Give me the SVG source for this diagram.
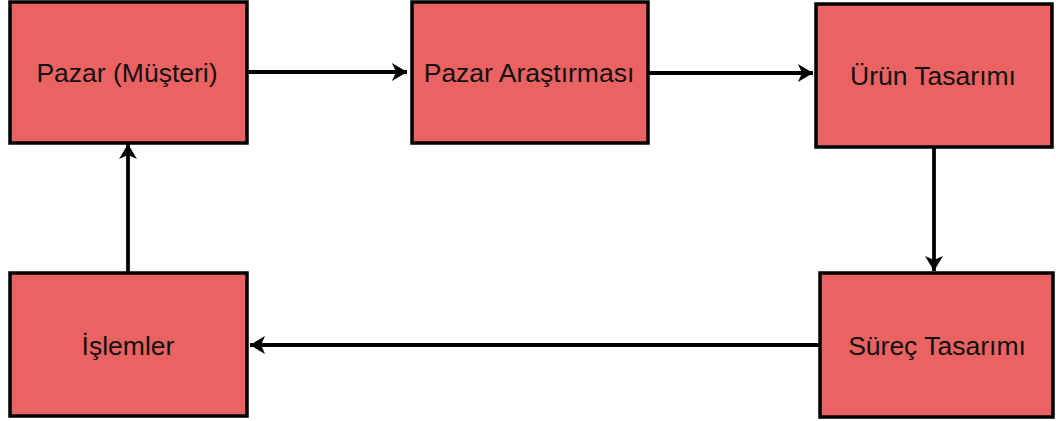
<svg xmlns="http://www.w3.org/2000/svg" width="1056" height="421" viewBox="0 0 1056 421">
  <style>
    .box { fill: #EB6262; stroke: #000; stroke-width: 3.5; }
    .lbl { font-family: "Liberation Sans", Arial, sans-serif; font-size: 26.5px; fill: #111; text-anchor: middle; }
    .edge { stroke: #000; stroke-width: 3.8; fill: none; marker-end: url(#arrow); }
  </style>
  <defs>
    <marker id="arrow" markerUnits="userSpaceOnUse" markerWidth="20" markerHeight="20" refX="15" refY="9" orient="auto">
      <path d="M0,0 L15,9 L0,18 L4,9 Z" fill="#000"/>
    </marker>
  </defs>
  <rect width="1056" height="421" fill="#fff"/>

  <g id="connectors">
    <line class="edge" x1="247" y1="72" x2="407" y2="72"/>
    <line class="edge" x1="648" y1="73" x2="813" y2="73"/>
    <line class="edge" x1="934" y1="147" x2="934" y2="271"/>
    <line class="edge" x1="820" y1="345" x2="250" y2="345"/>
    <line class="edge" x1="128" y1="272" x2="128" y2="144"/>
  </g>

  <g id="pazar">
    <rect class="box" x="10" y="2" width="237" height="141"/>
    <text class="lbl" x="127" y="82">Pazar (Müşteri)</text>
  </g>
  <g id="pazar-arastirmasi">
    <rect class="box" x="412" y="2" width="236" height="141"/>
    <text class="lbl" x="529" y="82">Pazar Araştırması</text>
  </g>
  <g id="urun-tasarimi">
    <rect class="box" x="816" y="4" width="236" height="143"/>
    <text class="lbl" x="933" y="85">Ürün Tasarımı</text>
  </g>
  <g id="surec-tasarimi">
    <rect class="box" x="820" y="273" width="233" height="144"/>
    <text class="lbl" x="937" y="355">Süreç Tasarımı</text>
  </g>
  <g id="islemler">
    <rect class="box" x="10" y="273" width="237" height="143"/>
    <text class="lbl" x="128" y="355">İşlemler</text>
  </g>
</svg>
